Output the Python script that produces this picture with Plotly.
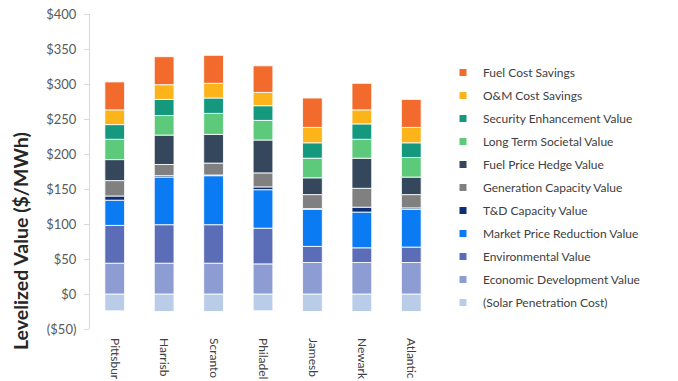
import plotly.graph_objects as go

# category labels as visible in the (cropped) reference
cities = ["Pittsbur", "Harrisb", "Scranto", "Philadel", "Jamesb", "Newark", "Atlantic"]

solar_penetration = [-24, -25, -25, -24, -25, -25, -25]
economic_dev = [44, 44, 44, 43, 45, 45, 45]
environmental = [54, 55, 55, 51, 23, 21, 22]
market_price = [36, 68, 70, 55, 53, 51, 54]
td_capacity = [6, 2, 1, 4, 1, 7, 2]
generation_capacity = [22, 16, 17, 20, 20, 27, 19]
fuel_price_hedge = [30, 42, 41, 47, 24, 43, 25]
long_term_societal = [29, 28, 30, 28, 28, 27, 28]
security_enhancement = [21, 23, 22, 21, 22, 22, 21]
om_cost = [21, 21, 21, 19, 22, 20, 22]
fuel_cost = [40, 40, 40, 38, 42, 38, 40]

y_tick_vals = [-50, 0, 50, 100, 150, 200, 250, 300, 350, 400]
y_tick_text = ["($50)", "$0", "$50", "$100", "$150", "$200", "$250", "$300", "$350", "$400"]

# bottom-to-top stacking order
series = [
    ("(Solar Penetration Cost)", solar_penetration, "#B9CCE8"),
    ("Economic Development Value", economic_dev, "#8D9DD3"),
    ("Environmental Value", environmental, "#5A6DB6"),
    ("Market Price Reduction Value", market_price, "#0A7BF3"),
    ("T&D Capacity Value", td_capacity, "#0D2D75"),
    ("Generation Capacity Value", generation_capacity, "#808080"),
    ("Fuel Price Hedge Value", fuel_price_hedge, "#34475C"),
    ("Long Term Societal Value", long_term_societal, "#5DCA7B"),
    ("Security Enhancement Value", security_enhancement, "#14997F"),
    ("O&M Cost Savings", om_cost, "#FDB31A"),
    ("Fuel Cost Savings", fuel_cost, "#F26A2C"),
]

FONT = "Lato"
# plot area in page pixels (page body margin removed below)
PL, PT, PW, PH = 90, 14, 346, 315

fig = go.Figure()

for name, vals, color in series:
    fig.add_trace(go.Bar(
        x=cities, y=vals, name=name, showlegend=False,
        marker=dict(color=color, line=dict(color="rgba(255,255,255,0.85)", width=1)),
    ))

# legend entries (top to bottom)
for name, vals, color in reversed(series):
    fig.add_trace(go.Scatter(
        x=[None], y=[None], mode="markers", name=name, legendgroup=name,
        marker=dict(symbol="square", size=7, color=color),
    ))

fig.update_layout(
    width=678, height=381,
    barmode="relative", bargap=0.6,
    margin=dict(l=PL, r=678 - PL - PW, t=PT, b=381 - PT - PH),
    plot_bgcolor="white", paper_bgcolor="white",
    font=dict(family=FONT, color="#404040"),
    legend=dict(
        x=(443 - PL) / PW, xanchor="left", y=(PT + PH - 58) / PH, yanchor="top",
        traceorder="grouped", tracegroupgap=4,
        font=dict(family=FONT, size=12, color="#404040"),
        bgcolor="rgba(0,0,0,0)",
    ),
    xaxis=dict(
        type="category", showline=False, showgrid=False, zeroline=False,
        ticks="", tickangle=90, automargin=False, ticklabelstandoff=8,
        tickfont=dict(family=FONT, size=12, color="#404040"),
    ),
    xaxis2=dict(
        overlaying="x", anchor="free", position=50 / 450,
        range=[-0.5, 6.5], showline=True, linecolor="#D9D9D9", linewidth=1,
        ticks="outside", ticklen=4, tickcolor="#D9D9D9",
        tickvals=[0.5, 1.5, 2.5, 3.5, 4.5, 5.5, 6.5], showticklabels=False,
        showgrid=False, zeroline=False,
    ),
    yaxis=dict(
        range=[-50, 400], tickvals=y_tick_vals, ticktext=y_tick_text,
        showline=True, linecolor="#D9D9D9", linewidth=1,
        ticks="outside", ticklen=5, tickcolor="#D9D9D9",
        ticklabelstandoff=5, ticklabeloverflow="allow",
        showgrid=False, zeroline=False,
        tickfont=dict(family=FONT, size=13, color="#595959"),
        automargin=False,
    ),
    annotations=[dict(
        text="<b>Levelized Value ($/MWh)</b>", textangle=-90,
        xref="paper", yref="paper", x=(20 - PL) / PW, y=(PT + PH - 241) / PH,
        xanchor="center", yanchor="middle", showarrow=False,
        font=dict(family=FONT, size=19.5, color="#262626"),
    )],
)

fig.write_html(
    "out.html",
    config={"displayModeBar": False},
    post_script="document.body.style.margin='0';",
)
